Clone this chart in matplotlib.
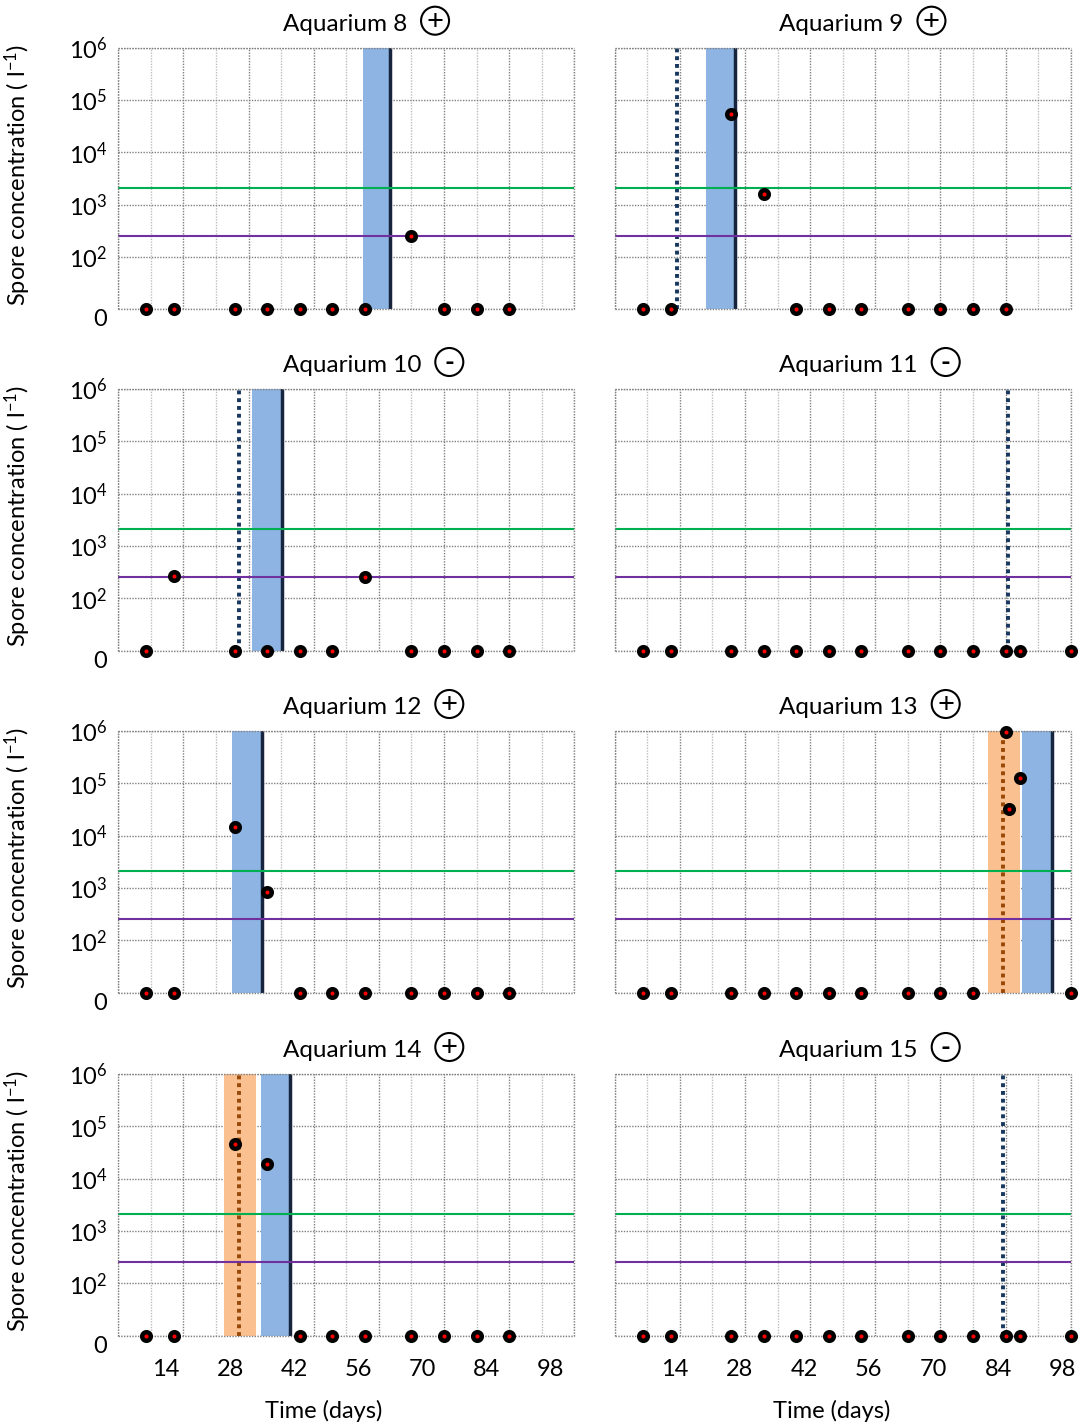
import numpy as np
import matplotlib
matplotlib.use("Agg")
import matplotlib.pyplot as plt
from matplotlib.patches import Ellipse
from matplotlib.ticker import FixedLocator, MultipleLocator, NullFormatter
from matplotlib.transforms import ScaledTranslation

plt.rcParams['font.family'] = ['Lato', 'DejaVu Sans']
plt.rcParams['mathtext.fontset'] = 'custom'
plt.rcParams['mathtext.rm'] = 'Lato'
plt.rcParams['mathtext.default'] = 'regular'

# Datos (días de muestreo y concentración de esporas, 0 = no detectado)
days_short = [6, 12, 25, 32, 39, 46, 53, 63, 70, 77, 84]
days_long = [6, 12, 25, 32, 39, 46, 53, 63, 70, 77, 84, 87, 98]
days_aq13 = [6, 12, 25, 32, 39, 46, 53, 63, 70, 77, 84, 84.7, 87, 98]

aq8_spores = [0, 0, 0, 0, 0, 0, 0, 250, 0, 0, 0]
aq9_spores = [0, 0, 53000, 1570, 0, 0, 0, 0, 0, 0, 0]
aq10_spores = [0, 270, 0, 0, 0, 0, 250, 0, 0, 0, 0]
aq11_spores = [0, 0, 0, 0, 0, 0, 0, 0, 0, 0, 0, 0, 0]
aq12_spores = [0, 0, 14700, 835, 0, 0, 0, 0, 0, 0, 0]
aq13_spores = [0, 0, 0, 0, 0, 0, 0, 0, 0, 0, 950000, 32000, 124000, 0]
aq14_spores = [0, 0, 46000, 19000, 0, 0, 0, 0, 0, 0, 0]
aq15_spores = [0, 0, 0, 0, 0, 0, 0, 0, 0, 0, 0, 0, 0]

# Umbrales horizontales
green_level = 2100
purple_level = 250

# Eventos: periodo azul (inicio, fin), línea punteada azul oscuro, periodo naranja (inicio, fin) y línea marrón
blue_periods = {8: (52.5, 58.8), 9: (19.6, 26.3), 10: (28.7, 35.5), 12: (24.4, 31.2),
                13: (87.5, 94.3), 14: (30.7, 37.3)}
navy_dotted = {9: 13.3, 10: 25.9, 11: 84.6, 15: 83.5}
orange_periods = {13: (80.2, 87.1), 14: (22.7, 29.6)}
brown_dotted = {13: 83.5, 14: 25.9}

signs = {8: '+', 9: '+', 10: '-', 11: '-', 12: '+', 13: '+', 14: '+', 15: '-'}

x_ticks = [14, 28, 42, 56, 70, 84, 98]
y_ticks = [10, 1e2, 1e3, 1e4, 1e5, 1e6]
y_ticklabels = ['0', r'$10^{2}$', r'$10^{3}$', r'$10^{4}$', r'$10^{5}$', r'$10^{6}$']

panels = [
    (8, days_short, aq8_spores), (9, days_short, aq9_spores),
    (10, days_short, aq10_spores), (11, days_long, aq11_spores),
    (12, days_short, aq12_spores), (13, days_aq13, aq13_spores),
    (14, days_short, aq14_spores), (15, days_long, aq15_spores),
]

W, H = 1081, 1426
fig = plt.figure(figsize=(W / 100, H / 100), dpi=100)

col_left = [118.3, 614.7]
ax_w = 456.0
ax_h = 261.6
row_top = [47.7, 389.0, 731.0, 1074.0]

ZERO = 10  # el "0" se dibuja en la posición de 10^1

titles = []
for i, (num, days, spores) in enumerate(panels):
    row, col = divmod(i, 2)
    x0 = col_left[col]
    y0 = row_top[row]
    ax = fig.add_axes([x0 / W, 1 - (y0 + ax_h) / H, ax_w / W, ax_h / H])
    ax.set_yscale('log')
    ax.set_xlim(0, 98)
    ax.set_ylim(ZERO, 1e6)

    # Rejilla punteada
    ax.xaxis.set_major_locator(MultipleLocator(14))
    ax.xaxis.set_minor_locator(MultipleLocator(7))
    ax.yaxis.set_major_locator(FixedLocator(y_ticks))
    ax.yaxis.set_minor_locator(FixedLocator([]))
    ax.grid(True, axis='y', which='major', color='#808080', linestyle=(0, (1, 1)), linewidth=1)
    ax.grid(True, axis='x', which='major', color='#808080', linestyle=(0, (1, 1)), linewidth=1)
    ax.grid(True, axis='x', which='minor', color='#bdbdbd', linestyle=(0, (1, 1)), linewidth=1)
    ax.set_axisbelow(True)
    for sp in ax.spines.values():
        sp.set_color('#808080')
        sp.set_linestyle((0, (1, 1)))
        sp.set_capstyle('butt')
        sp.set_linewidth(1)
    ax.tick_params(axis='both', which='both', length=0, labelsize=17)
    ax.tick_params(axis='y', pad=8)
    ax.tick_params(axis='x', pad=17)

    # Periodos y líneas verticales
    if num in orange_periods:
        a, b = orange_periods[num]
        ax.axvspan(a, b, color='#FAC090', zorder=1.5, lw=0)
        ax.axvline(brown_dotted[num], color='#984807', linestyle=(0, (1, 1)), lw=2.8, zorder=2)
    if num in blue_periods:
        a, b = blue_periods[num]
        ax.axvspan(a, b, color='#8DB4E2', zorder=1.5, lw=0)
        ax.axvline(b - 0.4, color='#17243D', lw=2.5, zorder=2)
    if num in navy_dotted:
        ax.axvline(navy_dotted[num], color='#17375E', linestyle=(0, (1, 1)), lw=2.8, zorder=2)

    # Umbrales
    ax.axhline(green_level, color='#00B050', lw=1.5, zorder=2.5)
    ax.axhline(purple_level, color='#7030A0', lw=1.5, zorder=2.5)

    # Puntos
    vals = np.array(spores, dtype=float)
    vals = np.where(vals == 0, ZERO, vals)
    ax.plot(days, vals, linestyle='none', marker='o', markersize=6.2,
            markerfacecolor='red', markeredgecolor='black', markeredgewidth=3.2,
            zorder=5, clip_on=False)

    # Etiquetas de ejes
    if col == 0:
        ax.set_yticklabels(y_ticklabels)
        ax.get_yticklabels()[0].set_verticalalignment('top')
        ax.set_ylabel(r'Spore concentration ( l$^{-1}$)', fontsize=17)
        ax.yaxis.set_label_coords(-0.186, 0.513)
    else:
        ax.yaxis.set_major_formatter(NullFormatter())
    if row == 3:
        ax.set_xticks(x_ticks)
        ax.set_xticklabels([str(t) for t in x_ticks])
        # las etiquetas del original están algo desplazadas a la izquierda
        for t, lab in zip(x_ticks, ax.get_xticklabels()):
            if col == 0:
                dx = -17.5 - (t - 14) / 84 * 6.5
            else:
                dx = -5 - (t - 14) / 84 * 3
            lab.set_transform(lab.get_transform() + ScaledTranslation(dx / 100, 0, fig.dpi_scale_trans))
        ax.set_xlabel('Time (days)', fontsize=17, labelpad=12)
        ax.xaxis.set_label_coords(0.45 if col == 0 else 0.476, -0.245)
    else:
        ax.xaxis.set_major_formatter(NullFormatter())

    t = ax.text(164.5 / ax_w, 1 + 17 / ax_h, 'Aquarium %d' % num, transform=ax.transAxes,
                ha='left', va='baseline', fontsize=17.5)
    titles.append((t, num, y0))

# Símbolo en círculo (+ / -) a la derecha de cada título
fig.canvas.draw()
renderer = fig.canvas.get_renderer()
for t, num, y0 in titles:
    bb = t.get_window_extent(renderer)
    cx = bb.x1 + 28
    cy = H - (y0 - 27)
    circ = Ellipse((cx / W, cy / H), 28 / W, 28 / H, transform=fig.transFigure,
                   fill=False, edgecolor='black', lw=1.5)
    fig.add_artist(circ)
    fig.text(cx / W, (cy - 1) / H, signs[num], ha='center', va='center',
             fontsize=21 if signs[num] == '+' else 19, fontweight='bold' if signs[num] == '-' else 'normal')

fig.savefig('out.png', dpi=100)
